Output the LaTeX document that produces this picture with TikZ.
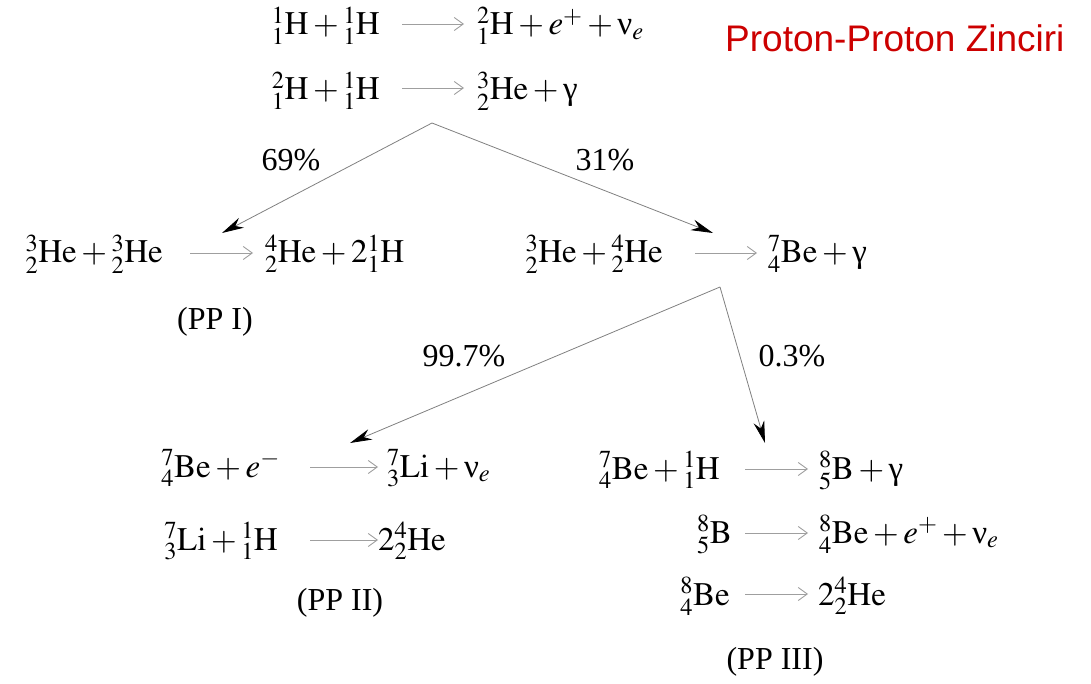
\documentclass[tikz,border=0pt]{standalone}
\usepackage{mathptmx}
\usepackage{fontspec}
\setmainfont{Liberation Serif}
\newfontfamily\titlefont{Liberation Sans}
\usetikzlibrary{arrows.meta}
\definecolor{titlered}{RGB}{204,0,0}
\newcommand{\gam}{\mbox{γ}}
\newcommand{\nue}{\mbox{ν}_{e}}
\begin{document}
\begin{tikzpicture}[x=1pt,y=-1pt,
  eq/.style={inner sep=0pt, font=\fontsize{33}{40}\selectfont},
  lft/.style={eq, anchor=base east},
  rgt/.style={eq, anchor=base west},
  lbl/.style={inner sep=0pt, font=\fontsize{32}{38}\selectfont},
  rxn/.style={draw=gray!75, line width=0.9pt, -{Straight Barb[length=9pt,width=13pt]}},
  branch/.style={draw=gray, line width=0.8pt, -{Stealth[length=22pt,width=11pt,inset=7pt,color=black]}}]
\useasboundingbox (0,0) rectangle (1091,684);

% title
\node[inner sep=0pt, anchor=base west, font=\titlefont\fontsize{37}{44}\selectfont, text=titlered] (title) at (725,52) {Proton-Proton Zinciri};

% row 1
\node[lft] (r1l) at (380,35) {${}^{1}_{1}\mathrm{H}+{}^{1}_{1}\mathrm{H}$};
\node[rgt] (r1r) at (477,35) {${}^{2}_{1}\mathrm{H}+e^{+}+\nue$};
\draw[rxn] ([xshift=22pt,yshift=11pt]r1l.base east) -- ([xshift=-13pt,yshift=11pt]r1r.base west);

% row 2
\node[lft] (r2l) at (380,100) {${}^{2}_{1}\mathrm{H}+{}^{1}_{1}\mathrm{H}$};
\node[rgt] (r2r) at (477,100) {${}^{3}_{2}\mathrm{He}+\gam$};
\draw[rxn] ([xshift=22pt,yshift=12pt]r2l.base east) -- ([xshift=-13pt,yshift=12pt]r2r.base west);

% branch 1
\coordinate (a1) at (432,123);
\coordinate (t1l) at (222,233);
\coordinate (t1r) at (713,233);
\draw[branch] (a1) -- (t1l);
\draw[branch] (a1) -- (t1r);
\node[lbl] (p69) at (291,160) {69\%};
\node[lbl] (p31) at (605,160) {31\%};

% row 3 left (PP I)
\node[lft] (r3l) at (163,263) {${}^{3}_{2}\mathrm{He}+{}^{3}_{2}\mathrm{He}$};
\node[rgt] (r3r) at (265,263) {${}^{4}_{2}\mathrm{He}+2{}^{1}_{1}\mathrm{H}$};
\draw[rxn] ([xshift=27pt,yshift=10pt]r3l.base east) -- ([xshift=-12pt,yshift=10pt]r3r.base west);
\node[lbl] (pp1) at (215,322) {(PP I)};

% row 3 right
\node[lft] (r4l) at (663,263) {${}^{3}_{2}\mathrm{He}+{}^{4}_{2}\mathrm{He}$};
\node[rgt] (r4r) at (768,263) {${}^{7}_{4}\mathrm{Be}+\gam$};
\draw[rxn] ([xshift=32pt,yshift=10pt]r4l.base east) -- ([xshift=-11pt,yshift=10pt]r4r.base west);

% branch 2
\coordinate (a2) at (720,287);
\coordinate (t2l) at (350,443);
\coordinate (t2r) at (765,443);
\draw[branch] (a2) -- (t2l);
\draw[branch] (a2) -- (t2r);
\node[lbl] (p997) at (464,356) {99.7\%};
\node[lbl] (p03) at (792,356) {0.3\%};

% PP II
\node[lft] (r5l) at (280,477) {${}^{7}_{4}\mathrm{Be}+e^{-}$};
\node[rgt] (r5r) at (387,477) {${}^{7}_{3}\mathrm{Li}+\nue$};
\draw[rxn] ([xshift=30pt,yshift=10pt]r5l.base east) -- ([xshift=-9pt,yshift=10pt]r5r.base west);

\node[lft] (r6l) at (278,550) {${}^{7}_{3}\mathrm{Li}+{}^{1}_{1}\mathrm{H}$};
\node[rgt] (r6r) at (378,550) {$2{}^{4}_{2}\mathrm{He}$};
\draw[rxn] ([xshift=32pt,yshift=10pt]r6l.base east) -- ([xshift=0pt,yshift=10pt]r6r.base west);
\node[lbl] (pp2) at (340,603) {(PP II)};

% PP III
\node[lft] (r7l) at (720,479) {${}^{7}_{4}\mathrm{Be}+{}^{1}_{1}\mathrm{H}$};
\node[rgt] (r7r) at (819,479) {${}^{8}_{5}\mathrm{B}+\gam$};
\draw[rxn] ([xshift=25pt,yshift=10pt]r7l.base east) -- ([xshift=-11pt,yshift=10pt]r7r.base west);

\node[lft] (r8l) at (732,543) {${}^{8}_{5}\mathrm{B}$};
\node[rgt] (r8r) at (819,543) {${}^{8}_{4}\mathrm{Be}+e^{+}+\nue$};
\draw[rxn] ([xshift=13pt,yshift=10pt]r8l.base east) -- ([xshift=-11pt,yshift=10pt]r8r.base west);

\node[lft] (r9l) at (730,605) {${}^{8}_{4}\mathrm{Be}$};
\node[rgt] (r9r) at (818,605) {$2{}^{4}_{2}\mathrm{He}$};
\draw[rxn] ([xshift=15pt,yshift=11pt]r9l.base east) -- ([xshift=-10pt,yshift=11pt]r9r.base west);
\node[lbl] (pp3) at (775,662) {(PP III)};
\end{tikzpicture}
\end{document}
